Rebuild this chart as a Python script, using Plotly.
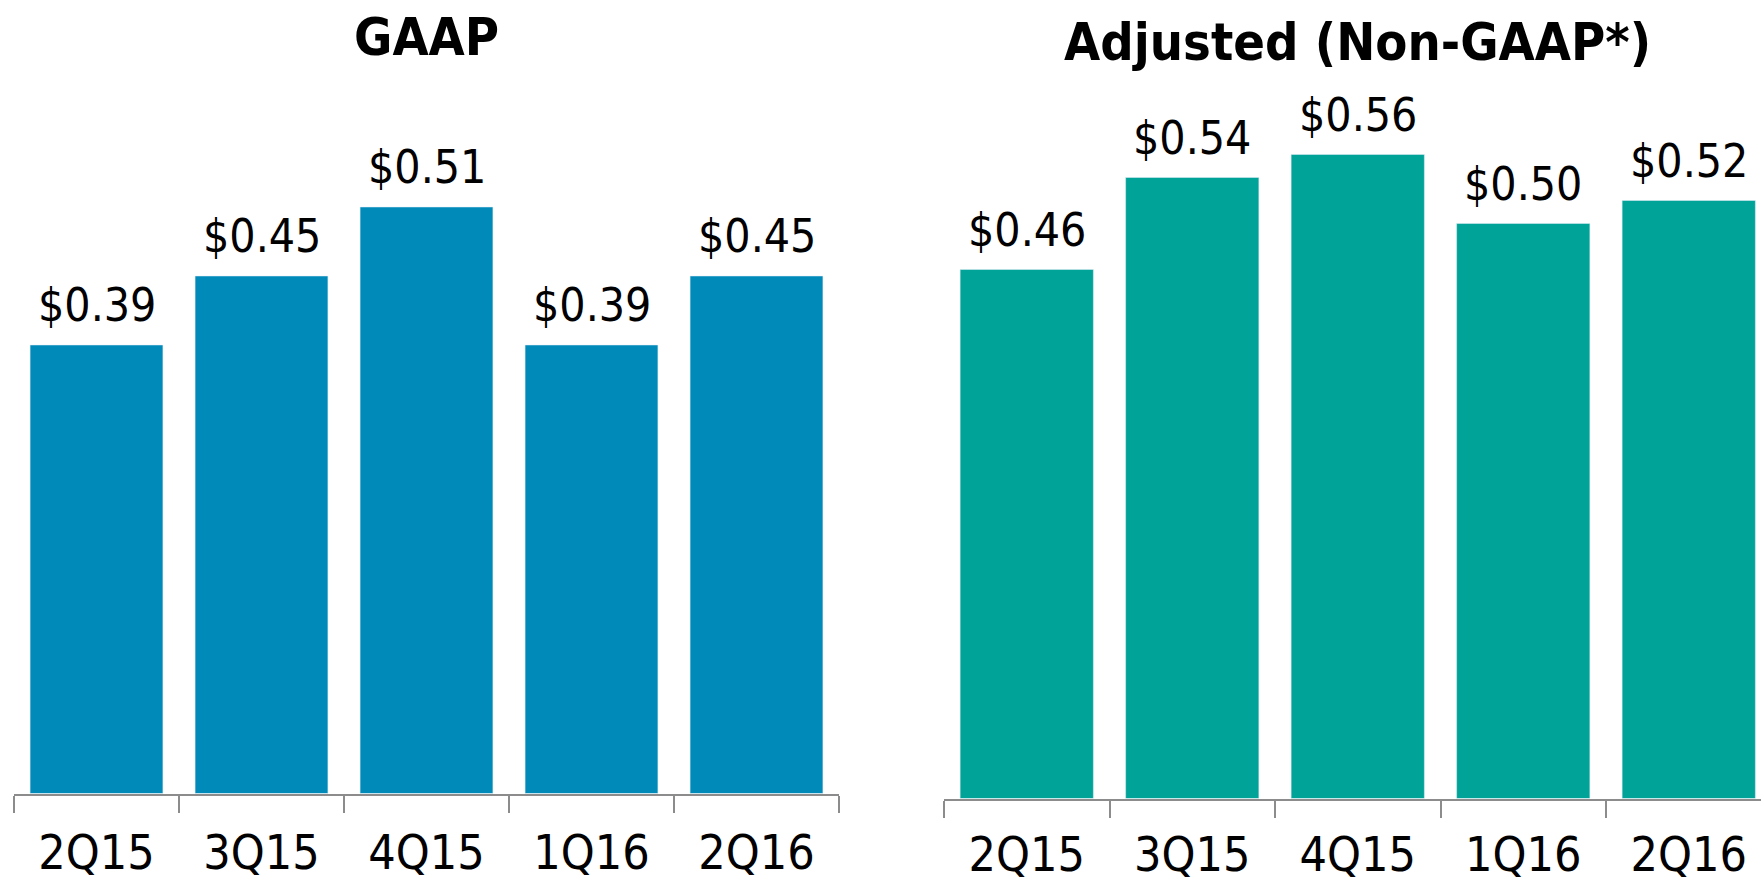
import plotly.graph_objects as go

quarters = ["2Q15", "3Q15", "4Q15", "1Q16", "2Q16"]
gaap_eps = [0.39, 0.45, 0.51, 0.39, 0.45]
adjusted_eps = [0.46, 0.54, 0.56, 0.50, 0.52]
panel_titles = ["GAAP", "Adjusted (Non-GAAP*)"]

W, H = 1761, 888
FONT = "DejaVu Sans Condensed, DejaVu Sans, sans-serif"
GAAP_COLOR = "#008ABA"
ADJ_COLOR = "#00A398"
AXIS_GRAY = "#8C8C8C"
PX_PER_UNIT = 1150.0

# pixel layout (figure coordinates)
L_X0, L_CAT = 14, 165.0
R_X0, R_CAT = 944, 165.5
L_BASE, R_BASE = 793.5, 798.5

fig = go.Figure()
fig.add_trace(go.Bar(x=quarters, y=gaap_eps, marker_color=GAAP_COLOR,
                     xaxis="x", yaxis="y", width=0.805, hoverinfo="skip"))
fig.add_trace(go.Bar(x=quarters, y=adjusted_eps, marker_color=ADJ_COLOR,
                     xaxis="x2", yaxis="y2", width=0.805, hoverinfo="skip"))

annotations = []
for q, v in zip(quarters, gaap_eps):
    annotations.append(dict(x=q, y=v, xref="x", yref="y", text=f"${v:.2f}",
                            showarrow=False, yanchor="middle", yshift=40,
                            font=dict(family=FONT, size=46, color="black")))
for q, v in zip(quarters, adjusted_eps):
    annotations.append(dict(x=q, y=v, xref="x2", yref="y2", text=f"${v:.2f}",
                            showarrow=False, yanchor="middle", yshift=40,
                            font=dict(family=FONT, size=46, color="black")))

l_x1 = L_X0 + 5 * L_CAT
r_x1 = R_X0 + 5 * R_CAT
annotations.append(dict(x=(L_X0 + l_x1) / 2 / W, y=1 - 37 / H, xref="paper", yref="paper",
                        text=f"<b>{panel_titles[0]}</b>", showarrow=False,
                        xanchor="center", yanchor="middle",
                        font=dict(family=FONT, size=52, color="black")))
annotations.append(dict(x=(R_X0 + r_x1) / 2 / W, y=1 - 42 / H, xref="paper", yref="paper",
                        text=f"<b>{panel_titles[1]}</b>", showarrow=False,
                        xanchor="center", yanchor="middle",
                        font=dict(family=FONT, size=52, color="black")))

xaxis_common = dict(
    type="category", showgrid=False, zeroline=False, automargin=False,
    showline=True, linecolor=AXIS_GRAY, linewidth=2,
    ticks="outside", tickson="boundaries", ticklen=17, tickwidth=2, tickcolor=AXIS_GRAY,
    tickfont=dict(family=FONT, size=48, color="black"),
    fixedrange=True,
)
yaxis_common = dict(visible=False, showgrid=False, zeroline=False, automargin=False,
                    fixedrange=True)

r_range_end = 4.5 - (r_x1 - W) / R_CAT

fig.update_layout(
    width=W, height=H, autosize=False,
    margin=dict(l=0, r=0, t=0, b=0, pad=0, autoexpand=False),
    paper_bgcolor="white", plot_bgcolor="white",
    showlegend=False,
    xaxis=dict(domain=[L_X0 / W, l_x1 / W], range=[-0.5, 4.5], anchor="y",
               ticklabelstandoff=16, **xaxis_common),
    yaxis=dict(domain=[1 - L_BASE / H, 1], range=[0, L_BASE / PX_PER_UNIT], anchor="x", **yaxis_common),
    xaxis2=dict(domain=[R_X0 / W, 1.0], range=[-0.5, r_range_end], anchor="y2",
                ticklabelstandoff=13, **xaxis_common),
    yaxis2=dict(domain=[1 - R_BASE / H, 1], range=[0, R_BASE / PX_PER_UNIT], anchor="x2", **yaxis_common),
    annotations=annotations,
)

fig.write_html(
    "out.html",
    config={"displayModeBar": False},
    post_script="document.body.style.margin='0';document.body.style.overflow='hidden';",
)
